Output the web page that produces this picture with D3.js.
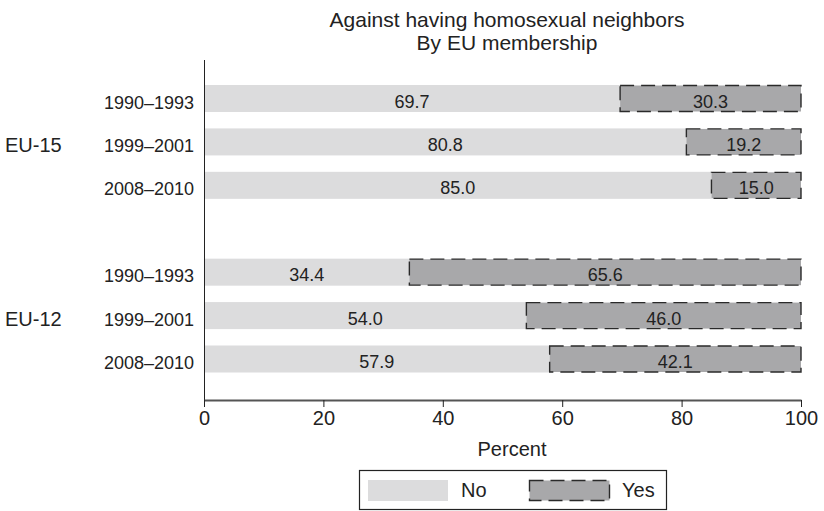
<!DOCTYPE html>
<html>
<head>
<meta charset="utf-8">
<script src="https://cdn.jsdelivr.net/npm/d3@7"></script>
<style>
  body { margin: 0; background: #fff; }
  svg { font-family: "Liberation Sans", Arial, sans-serif; }
</style>
</head>
<body>
<svg id="chart" width="824" height="511"></svg>
<script>
// data
var groups = ['EU-15', 'EU-12'];
var periods = ['1990\u20131993', '1999\u20132001', '2008\u20132010'];
var noValues = [69.7, 80.8, 85.0, 34.4, 54.0, 57.9];
var yesValues = [30.3, 19.2, 15.0, 65.6, 46.0, 42.1];
var xTicks = [0, 20, 40, 60, 80, 100];

var svg = d3.select('#chart');

var noColor = '#dcdcdd';
var yesColor = '#a8a8aa';
var ink = '#222';
var dash = '14,7';

var x = d3.scaleLinear().domain([0, 100]).range([204, 801]);

// row slots: 3 periods per group, one empty slot between the groups
var rows = [];
groups.forEach(function(g, gi) {
    periods.forEach(function(p, pi) {
        rows.push({ group: g, period: p, key: gi * 4 + pi });
    });
});
var y = d3.scalePoint().domain(d3.range(7)).range([98.5, 359]);
var bh = 27;

// title
svg.append('text').attr('x', 507).attr('y', 27).attr('text-anchor', 'middle')
    .attr('font-size', 21).attr('fill', ink).text('Against having homosexual neighbors');
svg.append('text').attr('x', 507).attr('y', 50).attr('text-anchor', 'middle')
    .attr('font-size', 21).attr('fill', ink).text('By EU membership');

var bars = svg.append('g');

rows.forEach(function(r, i) {
    var cy = y(r.key);
    var y0 = cy - bh / 2;
    bars.append('rect')
        .attr('x', x(0)).attr('y', y0)
        .attr('width', x(noValues[i]) - x(0)).attr('height', bh)
        .attr('fill', noColor);
    bars.append('rect')
        .attr('x', x(noValues[i])).attr('y', y0 + 0.5)
        .attr('width', x(100) - x(noValues[i])).attr('height', bh - 1)
        .attr('fill', yesColor)
        .attr('stroke', '#2a2a2a').attr('stroke-width', 1.4)
        .attr('stroke-dasharray', dash);
    bars.append('text')
        .attr('x', (x(0) + x(noValues[i])) / 2).attr('y', cy + 9)
        .attr('text-anchor', 'middle').attr('font-size', 18).attr('fill', ink)
        .text(noValues[i].toFixed(1));
    bars.append('text')
        .attr('x', (x(noValues[i]) + x(100)) / 2).attr('y', cy + 9)
        .attr('text-anchor', 'middle').attr('font-size', 18).attr('fill', ink)
        .text(yesValues[i].toFixed(1));
    // period label
    svg.append('text')
        .attr('x', 194).attr('y', cy + 10)
        .attr('text-anchor', 'end').attr('font-size', 18).attr('fill', ink)
        .text(r.period);
});

// group labels
groups.forEach(function(g, gi) {
    var mid = y(gi * 4 + 1);
    svg.append('text').attr('x', 5).attr('y', mid + 10)
        .attr('font-size', 20).attr('fill', ink).text(g);
});

// y axis line
svg.append('line').attr('x1', 204.5).attr('x2', 204.5).attr('y1', 60).attr('y2', 400)
    .attr('stroke', ink).attr('stroke-width', 1);

// x axis
var xAxis = d3.axisBottom(x).tickValues(xTicks).tickSize(7).tickSizeOuter(0).tickPadding(4);
var gx = svg.append('g').attr('transform', 'translate(0,400)').call(xAxis);
gx.select('.domain').attr('stroke', '#555').attr('stroke-width', 2);
gx.selectAll('.tick line').attr('stroke', ink);
gx.selectAll('.tick text').attr('font-size', 20).attr('fill', ink)
    .attr('font-family', '"Liberation Sans", Arial, sans-serif');

svg.append('text').attr('x', 512).attr('y', 456).attr('text-anchor', 'middle')
    .attr('font-size', 20).attr('fill', ink)
    .text('Percent');

// legend
var lg = svg.append('g');
lg.append('rect').attr('x', 359.5).attr('y', 470.5).attr('width', 307).attr('height', 39)
    .attr('fill', 'none').attr('stroke', ink).attr('stroke-width', 1.2);
lg.append('rect').attr('x', 368).attr('y', 480).attr('width', 80).attr('height', 21)
    .attr('fill', noColor);
lg.append('text').attr('x', 461).attr('y', 497).attr('font-size', 20).attr('fill', ink)
    .text('No');
lg.append('rect').attr('x', 529.5).attr('y', 480.5).attr('width', 80).attr('height', 20)
    .attr('fill', yesColor).attr('stroke', '#2a2a2a').attr('stroke-width', 1.4)
    .attr('stroke-dasharray', dash);
lg.append('text').attr('x', 622).attr('y', 497).attr('font-size', 20).attr('fill', ink)
    .text('Yes');
</script>
</body>
</html>
